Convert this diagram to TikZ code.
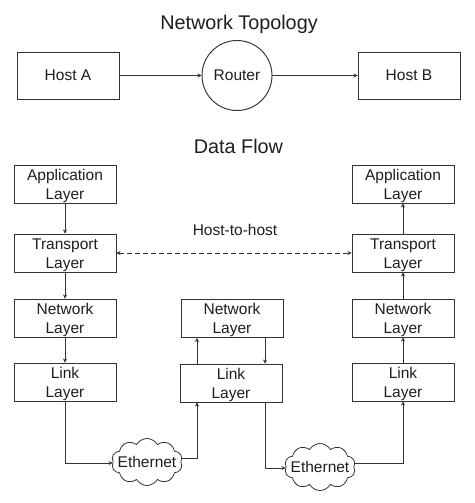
\documentclass[tikz,border=0pt]{standalone}
\usepackage{fontspec}
\setmainfont{Liberation Sans}
\usetikzlibrary{arrows.meta,shapes.symbols}
\definecolor{ln}{HTML}{333333}
\definecolor{tx}{HTML}{1E1E1E}
\newcommand\lowline[1]{\raisebox{-1.5pt}[11pt][3pt]{#1}}
\newcommand\twolines[2]{\lowline{#1}\\\lowline{#2}}
\tikzset{
  x=1pt,y=-1pt,
  every node/.style={text=tx,font=\fontsize{15.5}{19}\selectfont},
  layerbox/.style={draw=ln,line width=0.95pt,minimum width=102pt,minimum height=38pt,inner sep=0pt,align=center},
  hostbox/.style={draw=ln,line width=0.95pt,minimum width=102pt,minimum height=47pt,inner sep=0pt},
  routernode/.style={draw=ln,line width=0.95pt,circle,minimum size=70pt,inner sep=0pt},
  cloudnode/.style={draw=ln,line width=0.8pt,cloud,cloud puffs=10,cloud puff arc=120,aspect=1.5,minimum width=71pt,minimum height=47pt,inner sep=0pt},
  titletext/.style={font=\fontsize{19.8}{24}\selectfont},
  plaintext/.style={},
  conn/.style={draw=ln,line width=0.95pt,-{Stealth[length=4pt,width=4pt]}},
  dashconn/.style={draw=ln,line width=0.85pt,dash pattern=on 5pt off 3pt,{Stealth[length=4pt,width=4pt]}-{Stealth[length=4pt,width=4pt]}}
}
\begin{document}
\begin{tikzpicture}
\useasboundingbox (0,0) rectangle (474,503);
\node[titletext] (t1) at (239,24.5) {Network Topology};
\node[titletext] (t2) at (238.5,146.5) {Data Flow};
\node[hostbox] (ha) at (68,75.5) {Host A};
\node[routernode] (r) at (237,75.5) {Router};
\node[hostbox] (hb) at (409,75.5) {Host B};
\node[layerbox] (la) at (65,184) {\twolines{Application}{Layer}};
\node[layerbox] (lt) at (65,253) {\twolines{Transport}{Layer}};
\node[layerbox] (ln) at (65,318) {\twolines{Network}{Layer}};
\node[layerbox] (ll) at (65,382) {\twolines{Link}{Layer}};
\node[layerbox] (mn) at (232,318.5) {\twolines{Network}{Layer}};
\node[layerbox] (ml) at (231,383) {\twolines{Link}{Layer}};
\node[layerbox] (ra) at (403,184) {\twolines{Application}{Layer}};
\node[layerbox] (rt) at (403,253) {\twolines{Transport}{Layer}};
\node[layerbox] (rn) at (403,318) {\twolines{Network}{Layer}};
\node[layerbox] (rl) at (403,382) {\twolines{Link}{Layer}};
\node[plaintext] (hh) at (235,230) {Host-to-host};
\node[cloudnode,label={center:Ethernet}] (c1) at (147,462) {};
\node[cloudnode,label={center:Ethernet}] (c2) at (320,467) {};
\draw[conn] (ha) -- (r);
\draw[conn] (r) -- (hb);
\draw[conn] (la) -- (lt);
\draw[conn] (lt) -- (ln);
\draw[conn] (ln) -- (ll);
\draw[conn] (rl) -- (rn);
\draw[conn] (rn) -- (rt);
\draw[conn] (rt) -- (ra);
\draw[dashconn] (lt) -- (rt);
\draw[conn] ([xshift=-34pt]ml.north) -- ([xshift=-34pt]ml.north |- mn.south);
\draw[conn] ([xshift=34pt]ml.north |- mn.south) -- ([xshift=34pt]ml.north);
\draw[conn] (ll.south) |- ([yshift=-1pt]c1.west);
\draw[conn] ([yshift=4pt]c1.east) -| ([xshift=-34pt]ml.south);
\draw[conn] ([xshift=34pt]ml.south) |- ([yshift=-1pt]c2.west);
\draw[conn] ([yshift=4pt]c2.east) -| (rl.south);
\end{tikzpicture}
\end{document}
